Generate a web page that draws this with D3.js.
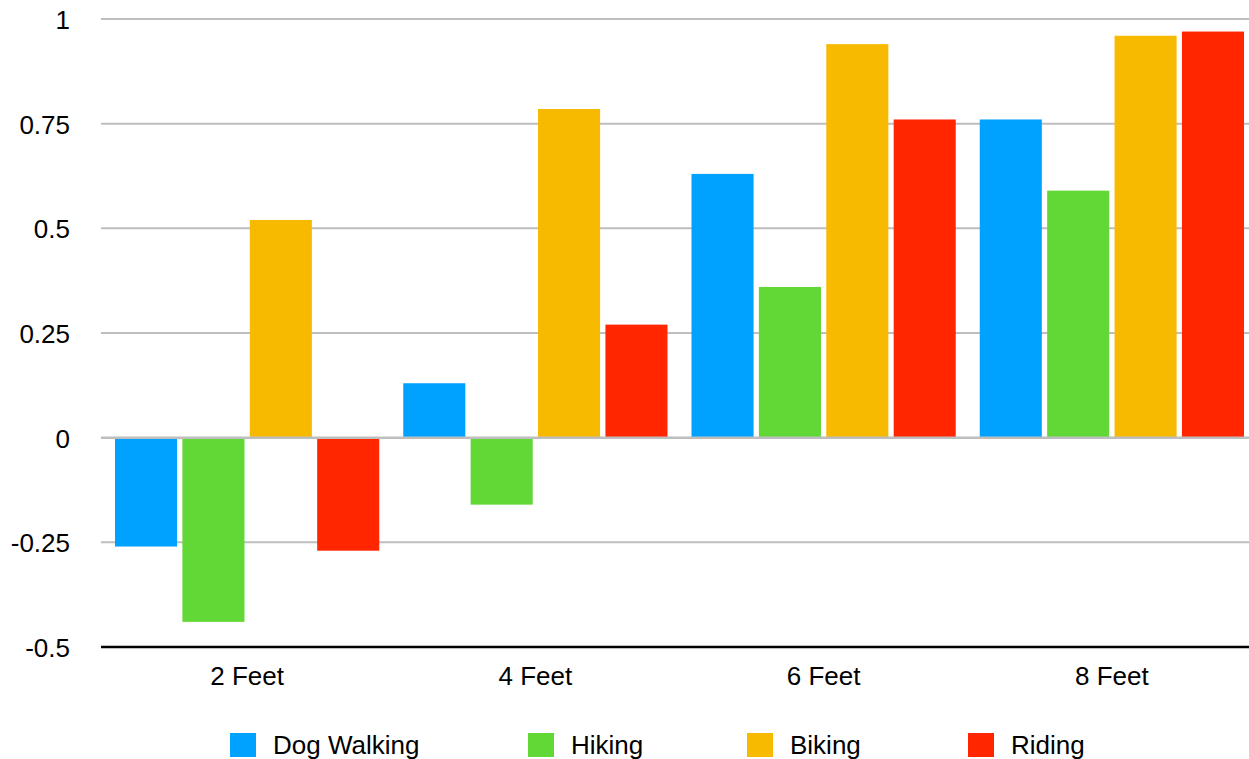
<!DOCTYPE html>
<html>
<head>
<meta charset="utf-8">
<script src="https://cdn.jsdelivr.net/npm/d3@7"></script>
<style>
  html, body { margin: 0; padding: 0; background: #fff; }
  svg { display: block; font-family: "Liberation Sans", Arial, Helvetica, sans-serif; }
</style>
</head>
<body>
<svg id="chart" width="1249" height="759"></svg>
<script>
// Distance categories along the x axis
const categories = ["2 Feet", "4 Feet", "6 Feet", "8 Feet"];

// Activity series and their values per distance
const seriesNames = ["Dog Walking", "Hiking", "Biking", "Riding"];
const dogWalking = [-0.26, 0.13, 0.63, 0.76];
const hiking     = [-0.44, -0.16, 0.36, 0.59];
const biking     = [0.52, 0.785, 0.94, 0.96];
const riding     = [-0.27, 0.27, 0.76, 0.97];
const seriesColors = ["#00A2FF", "#61D836", "#F8BA00", "#FF2600"];

// Y axis tick values and their labels
const yTicks = [-0.5, -0.25, 0, 0.25, 0.5, 0.75, 1];
const yTickLabels = ["-0.5", "-0.25", "0", "0.25", "0.5", "0.75", "1"];

const seriesValues = [dogWalking, hiking, biking, riding];
const rows = categories.map((c, i) => ({
  category: c,
  values: seriesNames.map((s, k) => ({ key: s, value: seriesValues[k][i] }))
}));

const svg = d3.select("#chart");
const gridLeft = 101, plotLeft = 103, plotRight = 1256, plotTop = 19, plotBottom = 647;

const x0 = d3.scaleBand().domain(categories).range([plotLeft, plotRight]).padding(0);
const groupPad = 12;
const x1 = d3.scaleBand().domain(seriesNames)
  .range([groupPad, x0.bandwidth() - groupPad])
  .paddingInner(0.079).paddingOuter(0);
const y = d3.scaleLinear().domain([-0.5, 1]).range([plotBottom, plotTop]);
const color = d3.scaleOrdinal().domain(seriesNames).range(seriesColors);

// Horizontal gridlines (excluding the baseline axis and zero line)
svg.append("g")
  .selectAll("line")
  .data(yTicks.filter(t => t !== -0.5 && t !== 0))
  .join("line")
  .attr("x1", gridLeft).attr("x2", 1249)
  .attr("y1", d => y(d)).attr("y2", d => y(d))
  .attr("stroke", "#BEBEBE").attr("stroke-width", 2);

// Bars
svg.append("g")
  .selectAll("g")
  .data(rows)
  .join("g")
  .attr("transform", d => `translate(${x0(d.category)},0)`)
  .selectAll("rect")
  .data(d => d.values)
  .join("rect")
  .attr("x", d => x1(d.key))
  .attr("width", x1.bandwidth())
  .attr("y", d => y(Math.max(0, d.value)))
  .attr("height", d => Math.abs(y(d.value) - y(0)))
  .attr("fill", d => color(d.key));

// Zero line drawn over the bars
svg.append("line")
  .attr("x1", gridLeft).attr("x2", 1249)
  .attr("y1", y(0)).attr("y2", y(0))
  .attr("stroke", "#BEBEBE").attr("stroke-width", 2.5);

// Bottom axis line
svg.append("line")
  .attr("x1", gridLeft).attr("x2", 1249)
  .attr("y1", y(-0.5)).attr("y2", y(-0.5))
  .attr("stroke", "#000").attr("stroke-width", 2.5);

// Y axis labels
const yAxis = d3.axisLeft(y).tickValues(yTicks)
  .tickFormat((d, i) => yTickLabels[i]).tickSize(0).tickPadding(0);
const yG = svg.append("g").attr("transform", "translate(70,0)").call(yAxis);
yG.select(".domain").remove();
yG.selectAll("text")
  .attr("font-size", 26).attr("fill", "#000")
  .attr("font-family", "Liberation Sans, Arial, sans-serif")
  .attr("dy", "0.36em");

// X axis labels
const xAxis = d3.axisBottom(x0).tickSize(0).tickPadding(0);
const xG = svg.append("g").attr("transform", `translate(0,${plotBottom})`).call(xAxis);
xG.select(".domain").remove();
xG.selectAll("text")
  .attr("font-size", 26).attr("fill", "#000")
  .attr("font-family", "Liberation Sans, Arial, sans-serif")
  .attr("dy", null).attr("y", 38);

// Legend: swatch x offsets for each entry
const legendOffsets = [0, 298, 517, 738];
const legend = svg.append("g").attr("transform", "translate(230,733)");
seriesNames.forEach((name, i) => {
  const item = legend.append("g").attr("transform", `translate(${legendOffsets[i]},0)`);
  item.append("rect").attr("width", 26).attr("height", 24).attr("fill", seriesColors[i]);
  item.append("text").attr("x", 43).attr("y", 21)
    .attr("font-size", 26).attr("fill", "#000").text(name);
});
</script>
</body>
</html>
